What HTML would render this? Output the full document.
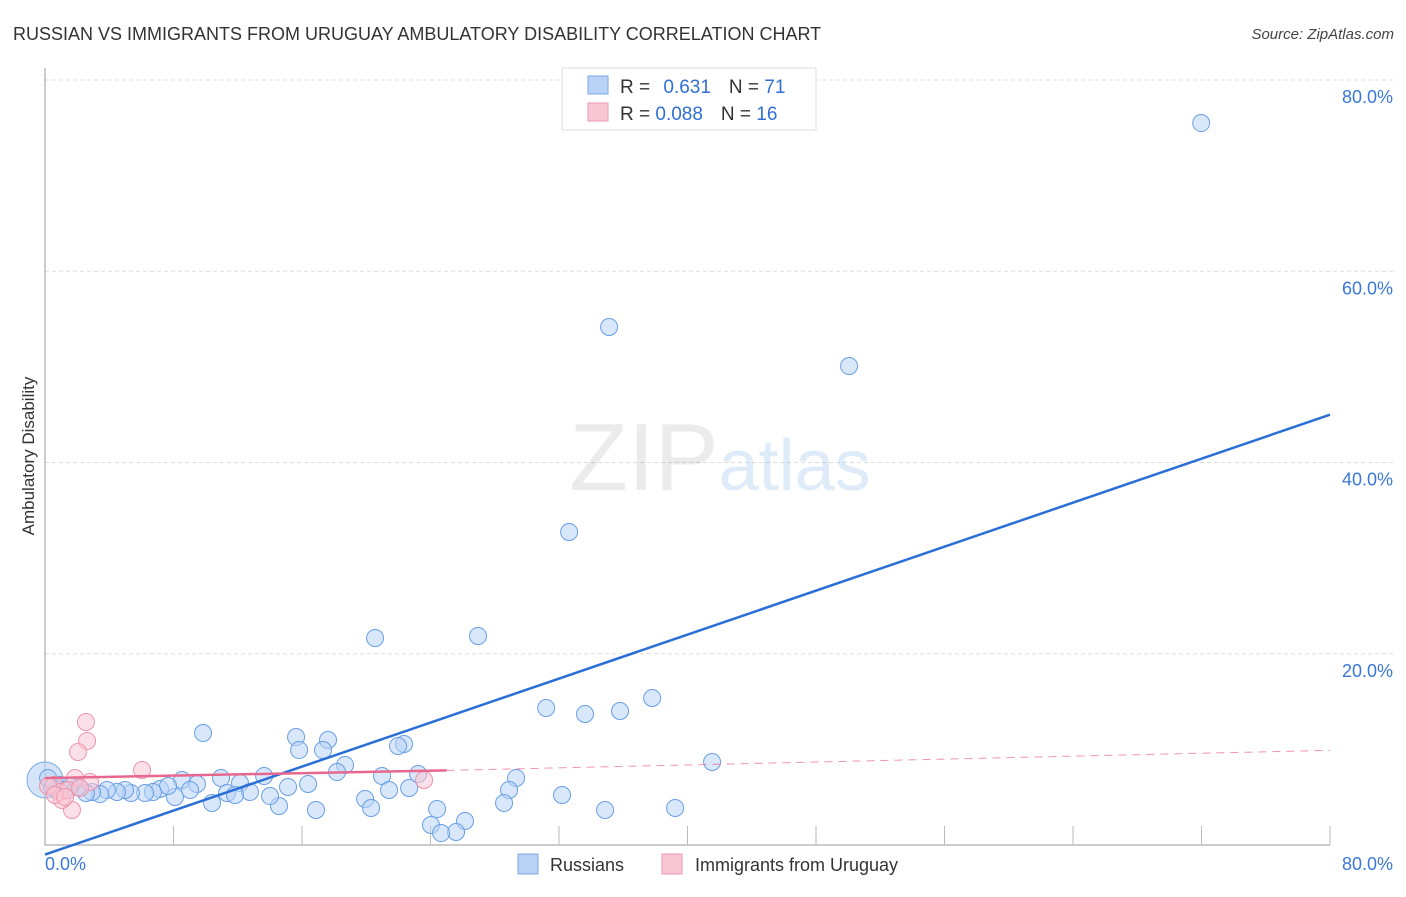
<!DOCTYPE html>
<html><head><meta charset="utf-8"><style>
body{margin:0;background:#fff;font-family:"Liberation Sans",sans-serif;}
svg text{font-family:"Liberation Sans",sans-serif;}
</style></head><body>
<svg id="chart" width="1406" height="892" xmlns="http://www.w3.org/2000/svg">
<text x="13" y="40" font-size="18" fill="#333">RUSSIAN VS IMMIGRANTS FROM URUGUAY AMBULATORY DISABILITY CORRELATION CHART</text>
<text x="1394" y="39" font-size="15" fill="#444" font-style="italic" text-anchor="end">Source: ZipAtlas.com</text>
<g id="grid"></g>
<text x="720" y="490" font-size="96" text-anchor="middle" fill="#000" fill-opacity="0.08" font-family="Liberation Serif">ZIP<tspan fill="#4a8ee0" fill-opacity="0.18" font-family="Liberation Sans" font-size="72">atlas</tspan></text>
<text transform="translate(34,456) rotate(-90)" font-size="17" fill="#333" text-anchor="middle">Ambulatory Disability</text>
<g id="marks"></g>
<g>
<rect x="562" y="68" width="254" height="62" fill="#fff" stroke="#ddd"/>
<rect x="588" y="76" width="20" height="18" fill="#b8d3f5" stroke="#7aaae8"/>
<text x="620" y="93" font-size="19" fill="#333">R = <tspan fill="#2f6fd6" dx="8">0.631</tspan><tspan dx="18" fill="#333">N = </tspan><tspan fill="#2f6fd6">71</tspan></text>
<rect x="588" y="103" width="20" height="18" fill="#f9c6d4" stroke="#ef9ab2"/>
<text x="620" y="120" font-size="19" fill="#333">R = <tspan fill="#2f6fd6">0.088</tspan><tspan dx="18" fill="#333">N = </tspan><tspan fill="#2f6fd6">16</tspan></text>
</g>
<g>
<rect x="518" y="854" width="20" height="20" fill="#b8d3f5" stroke="#7aaae8"/>
<text x="550" y="871" font-size="18" fill="#333">Russians</text>
<rect x="662" y="854" width="20" height="20" fill="#f9c6d4" stroke="#ef9ab2"/>
<text x="695" y="871" font-size="18" fill="#333">Immigrants from Uruguay</text>
</g>
</svg>
<script>
const xTicks=[0,80];
const yTicks=[20,40,60,80];
const russX=[71.98,35.12,50.06,32.63,20.55,26.96,37.80,31.20,33.62,35.80,41.53,9.84,15.63,17.62,15.82,17.31,22.35,21.98,18.68,18.18,23.23,20.98,13.64,10.96,8.53,12.14,9.46,16.38,15.13,22.67,21.42,29.33,28.89,32.19,19.93,20.30,24.41,28.58,34.87,39.23,16.87,14.57,10.40,14.01,12.76,11.33,11.83,8.09,9.03,7.16,7.66,6.72,6.23,5.35,4.98,4.48,3.86,3.42,2.93,2.55,2.05,1.56,0.93,0.44,26.15,24.03,25.59,24.66,0.68,1.25,0.19];
const russY=[75.50,54.17,50.09,32.73,21.65,21.86,15.37,14.33,13.70,14.01,8.68,11.71,11.29,10.98,9.93,9.93,10.56,10.35,8.37,7.63,7.42,7.22,7.22,7.01,6.80,6.48,6.38,6.38,6.07,5.96,5.75,7.01,5.75,5.23,4.81,3.87,3.76,4.39,3.66,3.87,3.66,4.08,4.39,5.12,5.54,5.44,5.23,5.02,5.75,5.86,6.17,5.54,5.44,5.44,5.75,5.54,5.75,5.33,5.54,5.44,6.07,6.17,6.27,6.07,2.51,2.09,1.36,1.25,5.75,5.75,7.01];
const uruX=[2.55,2.62,2.05,6.04,1.68,1.06,2.80,1.87,0.56,0.93,1.43,0.19,0.62,23.60,1.25,2.18];
const uruY=[12.86,10.88,9.73,7.84,3.66,4.71,6.59,7.01,6.27,5.54,5.75,6.17,5.23,6.80,5.02,5.96];
const russTrend=[[0,-1.0],[80,45.0]];
const uruTrendSolid=[[0,7.0],[25,7.8]];
const uruTrendDash=[[25,7.8],[80,9.9]];
const NS="http://www.w3.org/2000/svg";
const sx=v=>45+v*(1285/80), sy=v=>845-v*(765/80);
function mk(tag,attrs,parent){const e=document.createElementNS(NS,tag);for(const k in attrs)e.setAttribute(k,attrs[k]);parent.appendChild(e);return e;}
const grid=document.getElementById('grid'), marks=document.getElementById('marks');
yTicks.forEach(t=>{
 const l=mk('line',{x1:45,x2:1393,y1:sy(t),y2:sy(t),stroke:'#ddd','stroke-dasharray':'4,3'},grid);
 
 
 const tx=mk('text',{x:1393,y:sy(t)+23,'font-size':18,fill:'#3a78d8','text-anchor':'end'},grid);
 tx.textContent=t.toFixed(1)+'%';
 
 
});
for(let i=1;i<=10;i++){const t=i*8;const l=mk('line',{x1:sx(t),x2:sx(t),y1:826,y2:845,stroke:'#bbb'},grid);
 
 }
const ax=mk('path',{d:'M45 68 V845 H1330',fill:'none',stroke:'#bbb','stroke-width':1.5},grid);


xTicks.forEach((t,i)=>{const tx=mk('text',{x:i==0?45:1393,y:870,'font-size':18,fill:'#3a78d8','text-anchor':i==0?'start':'end'},grid);
 tx.textContent=t.toFixed(1)+'%';
 
 });
const big=mk('circle',{cx:sx(0),cy:sy(6.8),r:18,fill:'#b8d3f5','fill-opacity':0.6,stroke:'#7aaae8'},marks);


russX.forEach((x,i)=>{const c=mk('circle',{cx:sx(x),cy:sy(russY[i]),r:8.5,fill:'#b8d3f5','fill-opacity':0.55,stroke:'#6a9fe4','stroke-width':1},marks);
 
 });
uruX.forEach((x,i)=>{const c=mk('circle',{cx:sx(x),cy:sy(uruY[i]),r:8.5,fill:'#f9c6d4','fill-opacity':0.55,stroke:'#ec94ad','stroke-width':1},marks);
 
 });
const rl=mk('line',{x1:sx(russTrend[0][0]),y1:sy(russTrend[0][1]),x2:sx(russTrend[1][0]),y2:sy(russTrend[1][1]),stroke:'#2a6fd8','stroke-width':2.5},marks);


const ul=mk('line',{x1:sx(uruTrendSolid[0][0]),y1:sy(uruTrendSolid[0][1]),x2:sx(uruTrendSolid[1][0]),y2:sy(uruTrendSolid[1][1]),stroke:'#e8678e','stroke-width':2.5},marks);


const ud=mk('line',{x1:sx(uruTrendDash[0][0]),y1:sy(uruTrendDash[0][1]),x2:sx(uruTrendDash[1][0]),y2:sy(uruTrendDash[1][1]),stroke:'#e8678e','stroke-width':1,'stroke-dasharray':'8,6','stroke-opacity':0.7},marks);


</script>
</body></html>
